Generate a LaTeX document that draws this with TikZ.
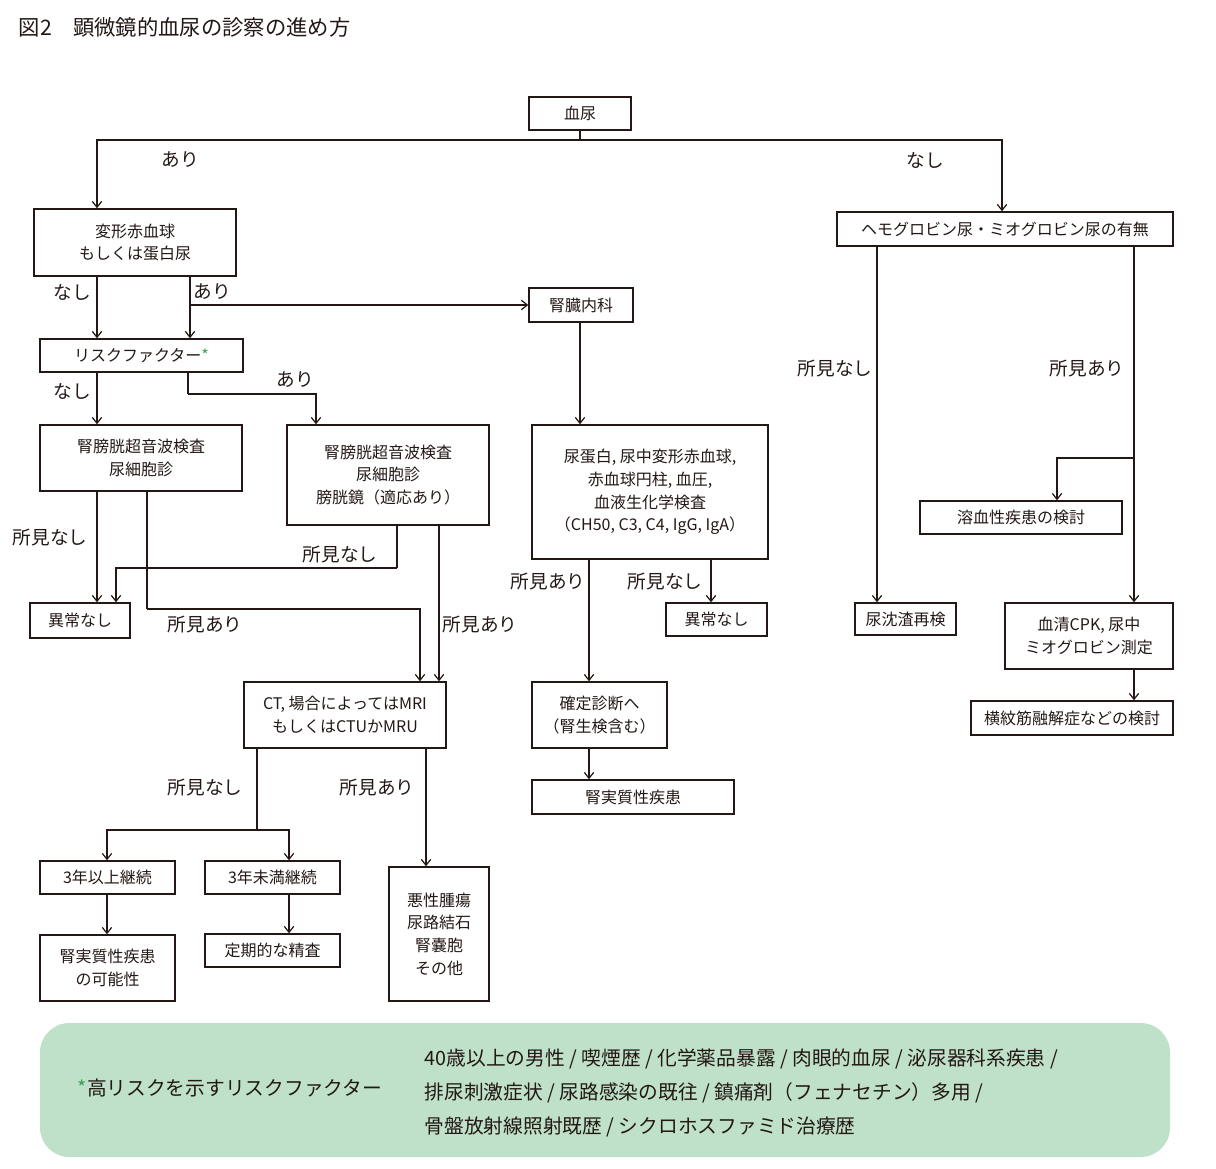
\documentclass[tikz,border=0pt]{standalone}
\usepackage{fontspec}
\setmainfont{Noto Sans CJK JP}
\usetikzlibrary{arrows.meta}
\definecolor{ln}{HTML}{231815}
\definecolor{gr}{HTML}{3AA35B}
\definecolor{bg}{HTML}{BFE1C9}
\tikzset{
 box/.style={draw=ln,line width=1pt,inner sep=0pt,align=center,font=\fontsize{12}{17}\selectfont,text=ln},
 lab/.style={font=\fontsize{14}{16}\selectfont,text=ln},
 arr/.style={draw=ln,line width=0.9pt,-{Straight Barb[length=4.5pt,width=7pt]}},
 ln/.style={draw=ln,line width=0.9pt}
}
\newcommand\bx[6]{\node[box,minimum width={(#4-#2)*0.75pt},minimum height={(#5-#3)*0.75pt}] (#1) at ({(#2+#4)/2},{(#3+#5)/2}) {#6};}
\begin{document}
\begin{tikzpicture}[x=0.75pt,y=-0.75pt]
\useasboundingbox (0,0) rectangle (1216,1168);
\node[anchor=west,font=\fontsize{16}{18}\selectfont,text=ln] (title) at (14,27) {図2\quad 顕微鏡的血尿の診察の進め方};
% boxes
\bx{ketsu}{529}{97}{631}{130}{血尿}
\bx{hen}{34}{209}{236}{276}{変形赤血球\\もしくは蛋白尿}
\bx{hemo}{837}{212}{1173}{246}{ヘモグロビン尿・ミオグロビン尿の有無}
\bx{jin}{529}{288}{633}{322}{腎臓内科}
\bx{risk}{40}{339}{243}{372}{リスクファクター\textcolor{gr}{*}}
\bx{us1}{40}{425}{242}{491}{腎膀胱超音波検査\\尿細胞診}
\bx{us2}{287}{425}{489}{525}{腎膀胱超音波検査\\尿細胞診\\膀胱鏡（適応あり）}
\bx{nyo}{532}{425}{768}{559}{尿蛋白, 尿中変形赤血球,\\赤血球円柱, 血圧,\\血液生化学検査\\（CH50, C3, C4, IgG, IgA）}
\bx{ij1}{30}{603}{130}{638}{異常なし}
\bx{ij2}{666}{603}{767}{636}{異常なし}
\bx{ct}{244}{682}{446}{748}{CT, 場合によってはMRI\\もしくはCTUかMRU}
\bx{kaku}{532}{682}{667}{748}{確定診断へ\\（腎生検含む）}
\bx{jj}{532}{780}{734}{814}{腎実質性疾患}
\bx{y3}{40}{861}{175}{894}{3年以上継続}
\bx{n3}{205}{861}{340}{894}{3年未満継続}
\bx{kan}{40}{935}{175}{1001}{腎実質性疾患\\の可能性}
\bx{tei}{205}{934}{340}{967}{定期的な精査}
\bx{aku}{389}{867}{489}{1001}{悪性腫瘍\\尿路結石\\腎嚢胞\\その他}
\bx{yo}{920}{501}{1122}{534}{溶血性疾患の検討}
\bx{chin}{855}{603}{956}{635}{尿沈渣再検}
\bx{cpk}{1005}{603}{1173}{669}{血清CPK, 尿中\\ミオグロビン測定}
\bx{oh}{971}{701}{1173}{735}{横紋筋融解症などの検討}
% connectors
\coordinate (t1) at (580,140);
\draw[ln] (ketsu.south) -- (t1);
\draw[arr] (t1) -| (hen.north -| 97,0);
\draw[arr] (t1) -| (hemo.north -| 1002,0);
\node[lab] (l1) at (180,160) {あり};
\node[lab] (l2) at (925,160) {なし};
\draw[arr] (hen.south -| 97,0) -- (risk.north -| 97,0);
\draw[arr] (hen.south -| 190,0) -- (risk.north -| 190,0);
\coordinate (c305) at (190,305);
\draw[arr] (c305) -- (jin.west);
\node[lab] (l3) at (72,292) {なし};
\node[lab] (l4) at (212,292) {あり};
\draw[arr] (risk.south -| 97,0) -- (us1.north -| 97,0);
\coordinate (c394) at (188,394);
\draw[ln] (risk.south -| 188,0) -- (c394);
\draw[arr] (c394) -| (us2.north -| 316,0);
\node[lab] (l5) at (72,391) {なし};
\node[lab] (l6) at (295,380) {あり};
\draw[arr] (jin.south -| 580,0) -- (nyo.north -| 580,0);
\draw[arr] (us1.south -| 97,0) -- (ij1.north -| 97,0);
\node[lab] (l7) at (50,538) {所見なし};
\coordinate (c609) at (147,609);
\draw[ln] (us1.south -| 147,0) -- (c609);
\draw[arr] (c609) -| (ct.north -| 420,0);
\node[lab] (l8) at (205,625) {所見あり};
\coordinate (c568) at (397,568);
\draw[ln] (us2.south -| 397,0) -- (c568);
\draw[arr] (c568) -| (ij1.north -| 116,0);
\node[lab] (l9) at (340,555) {所見なし};
\draw[arr] (us2.south -| 439,0) -- (ct.north -| 439,0);
\node[lab] (l10) at (480,625) {所見あり};
\draw[arr] (nyo.south -| 589,0) -- (kaku.north -| 589,0);
\draw[arr] (nyo.south -| 711,0) -- (ij2.north -| 711,0);
\node[lab] (l11) at (548,582) {所見あり};
\node[lab] (l12) at (665,582) {所見なし};
\draw[arr] (kaku.south -| 589,0) -- (jj.north -| 589,0);
\coordinate (c830) at (257,830);
\draw[ln] (ct.south -| 257,0) -- (c830);
\draw[arr] (c830) -| (y3.north -| 107,0);
\draw[arr] (c830) -| (n3.north -| 289,0);
\node[lab] (l13) at (205,788) {所見なし};
\draw[arr] (ct.south -| 426,0) -- (aku.north -| 426,0);
\node[lab] (l14) at (377,788) {所見あり};
\draw[arr] (y3.south -| 107,0) -- (kan.north -| 107,0);
\draw[arr] (n3.south -| 289,0) -- (tei.north -| 289,0);
\draw[arr] (hemo.south -| 877,0) -- (chin.north -| 877,0);
\node[lab] (l15) at (835,369) {所見なし};
\draw[arr] (hemo.south -| 1134,0) -- (cpk.north -| 1134,0);
\node[lab] (l16) at (1087,369) {所見あり};
\coordinate (c458) at (1134,458);
\draw[arr] (c458) -| (yo.north -| 1057,0);
\draw[arr] (cpk.south -| 1134,0) -- (oh.north -| 1134,0);
% legend
\node[fill=bg,rounded corners=22pt,minimum width={1130*0.75pt},minimum height={134*0.75pt},inner sep=0pt] (leg) at (605,1090) {};
\node[font=\fontsize{14.8}{16}\selectfont,text=ln] (legt) at (230,1088) {\textcolor{gr}{*}高リスクを示すリスクファクター};
\node[anchor=west,align=left,font=\fontsize{14.8}{25.5}\selectfont,text=ln] (legl) at (420,1093) {40歳以上の男性 / 喫煙歴 / 化学薬品暴露 / 肉眼的血尿 / 泌尿器科系疾患 /\\排尿刺激症状 / 尿路感染の既往 / 鎮痛剤（フェナセチン）多用 /\\骨盤放射線照射既歴 / シクロホスファミド治療歴};
\end{tikzpicture}
\end{document}
